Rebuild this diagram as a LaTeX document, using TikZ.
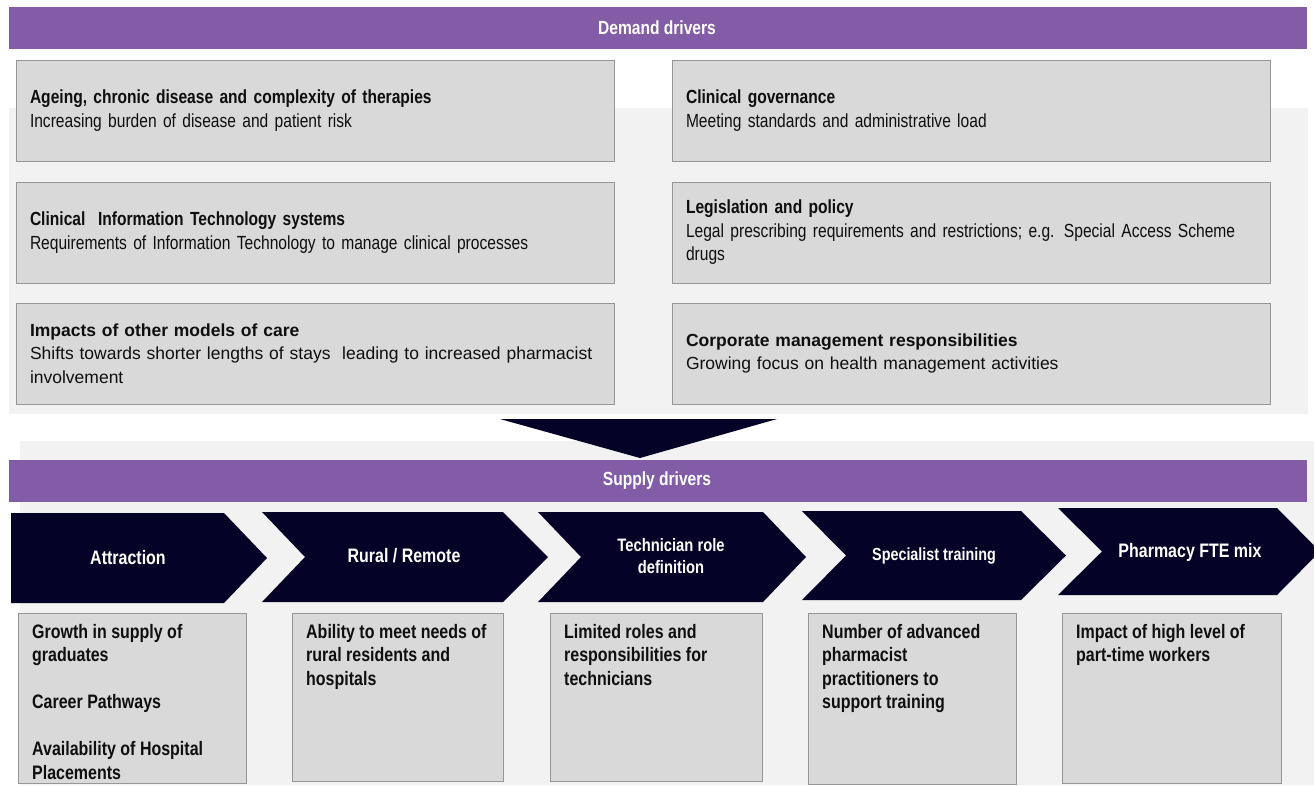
\documentclass[tikz,border=0pt]{standalone}
\usepackage{fontspec}
\setmainfont{Liberation Sans}
\newfontfamily\narrowfont{Liberation Sans}[FakeStretch=0.82]

\definecolor{barpurple}{RGB}{131,92,167}
\definecolor{navy}{RGB}{5,2,40}
\definecolor{boxfill}{RGB}{217,217,217}
\definecolor{boxline}{RGB}{150,150,150}
\definecolor{panel}{RGB}{242,242,242}
\definecolor{ink}{RGB}{15,15,15}

\begin{document}
\begin{tikzpicture}[
    x=1pt,
    y=-1pt,
    line join=miter,
    headbar/.style={fill=barpurple,text=white,font=\narrowfont\bfseries\fontsize{19}{22}\selectfont},
    demandbox/.style={draw=boxline,fill=boxfill,text=ink,minimum width=598pt,minimum height=101pt,
        text width=570pt,inner xsep=14pt,align=left,font=\narrowfont\fontsize{19}{23.5}\selectfont},
    widebox/.style={demandbox,font=\fontsize{17.5}{23.5}\selectfont},
    supplybox/.style={draw=boxline,fill=boxfill,anchor=north west,inner sep=0pt},
    supplytext/.style={anchor=north west,inner sep=0pt,align=left,text=ink,
        font=\narrowfont\bfseries\fontsize{19.5}{23.5}\selectfont},
    chevron/.style={fill=navy},
    chevlabel/.style={text=white,align=center,font=\narrowfont\bfseries\fontsize{19.5}{22}\selectfont}
]
\useasboundingbox (0,0) rectangle (1314,785);

% -------------------------------------------------
% Light panels behind both halves
% -------------------------------------------------

\fill[panel] (9,108) rectangle (1308,414);
\fill[panel] (20,441) rectangle (1314,785);

% -------------------------------------------------
% Demand side
% -------------------------------------------------

\fill[barpurple] (9,7) rectangle (1307,49);
\node[headbar] (demand) at (657,28) {Demand drivers};

\node[demandbox] (ageing) at (315,110.5)
    {{\bfseries Ageing, chronic disease and complexity of therapies}\\
     Increasing burden of disease and patient risk};
\node[demandbox] (govern) at (971,110.5)
    {{\bfseries Clinical governance}\\
     Meeting standards and administrative load};

\node[demandbox] (clinit) at (315,232.5)
    {{\bfseries Clinical~ Information Technology systems}\\
     Requirements of Information Technology to manage clinical processes};
\node[demandbox] (legis) at (971,232.5)
    {{\bfseries Legislation and policy}\\
     Legal prescribing requirements and restrictions; e.g. Special Access Scheme\\
     drugs};

\node[widebox] (models) at (315,353.5)
    {{\bfseries Impacts of other models of care}\\
     Shifts towards shorter lengths of stays~ leading to increased pharmacist\\
     involvement};
\node[widebox] (corp) at (971,353.5)
    {{\bfseries Corporate management responsibilities}\\
     Growing focus on health management activities};

% big arrow down to the supply side
\fill[chevron] (500,419) -- (777,419) -- (640,458) -- cycle;

% -------------------------------------------------
% Supply side
% -------------------------------------------------

\fill[barpurple] (9,460) rectangle (1307,502);
\node[headbar] (supply) at (657,481) {Supply drivers};

% chevrons: left, notch, flat right, tip; top, middle, bottom
\fill[chevron] (11,513) -- (224,513) -- (267,558) -- (224,603) -- (11,603) -- cycle;
\fill[chevron] (262,512) -- (503,512) -- (548,557) -- (503,602) -- (262,602) -- (305,557) -- cycle;
\fill[chevron] (538,512) -- (763,512) -- (806,557) -- (763,602) -- (538,602) -- (581,557) -- cycle;
\fill[chevron] (802,511) -- (1021,511) -- (1066,555.5) -- (1021,600) -- (802,600) -- (846,555.5) -- cycle;
\fill[chevron] (1058,508) -- (1277,508) -- (1320,551.5) -- (1277,595) -- (1058,595) -- (1102,551.5) -- cycle;

\node[chevlabel] (attr) at (128,558) {Attraction};
\node[chevlabel] (rural) at (404,556) {Rural / Remote};
\node[chevlabel,font=\narrowfont\bfseries\fontsize{18}{22}\selectfont] (tech) at (671,556)
    {Technician role\\definition};
\node[chevlabel,font=\narrowfont\bfseries\fontsize{17.5}{22}\selectfont] (spec) at (934,556)
    {Specialist training};
\node[chevlabel] (fte) at (1190,552) {Pharmacy FTE mix};

% -------------------------------------------------
% Boxes under the chevrons
% -------------------------------------------------

\node[supplybox,minimum width=228pt,minimum height=170pt] (attrbox) at (18,613) {};
\node[supplybox,minimum width=211pt,minimum height=168pt] (ruralbox) at (292,613) {};
\node[supplybox,minimum width=212pt,minimum height=168pt] (techbox) at (550,613) {};
\node[supplybox,minimum width=208pt,minimum height=171pt] (specbox) at (808,613) {};
\node[supplybox,minimum width=219pt,minimum height=170pt] (ftebox) at (1062,613) {};

\node[supplytext] (attrtext) at ([shift={(14,11)}]attrbox.north west)
    {Growth in supply of\\graduates\\[23.5pt]Career Pathways\\[23.5pt]Availability of Hospital\\Placements};
\node[supplytext] (ruraltext) at ([shift={(14,11)}]ruralbox.north west)
    {Ability to meet needs of\\rural residents and\\hospitals};
\node[supplytext] (techtext) at ([shift={(14,11)}]techbox.north west)
    {Limited roles and\\responsibilities for\\technicians};
\node[supplytext] (spectext) at ([shift={(14,11)}]specbox.north west)
    {Number of advanced\\pharmacist\\practitioners to\\support training};
\node[supplytext] (ftetext) at ([shift={(14,11)}]ftebox.north west)
    {Impact of high level of\\part-time workers};

\end{tikzpicture}
\end{document}
